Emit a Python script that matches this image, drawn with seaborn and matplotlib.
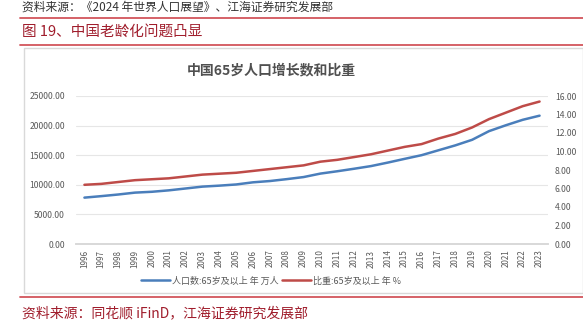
import numpy as np
import pandas as pd
import matplotlib
matplotlib.use("Agg")
import matplotlib.pyplot as plt
from matplotlib.lines import Line2D
from matplotlib.patches import Rectangle
import seaborn as sns

# Data: population aged 65+ (10k persons) and its share of total (%)
years = [str(y) for y in range(1996, 2024)]
pop_65 = [7833, 8085, 8359, 8679, 8821, 9062, 9377, 9692, 9857, 10055,
          10419, 10636, 10956, 11307, 11894, 12288, 12714, 13161, 13755, 14386,
          15003, 15831, 16658, 17603, 19064, 20056, 20978, 21676]
share_65 = [6.4, 6.5, 6.7, 6.9, 7.0, 7.1, 7.3, 7.5, 7.6, 7.7,
            7.9, 8.1, 8.3, 8.5, 8.9, 9.1, 9.4, 9.7, 10.1, 10.5,
            10.8, 11.4, 11.9, 12.6, 13.5, 14.2, 14.9, 15.4]
left_ticks = [0, 5000, 10000, 15000, 20000, 25000]
right_ticks = [0, 2, 4, 6, 8, 10, 12, 14, 16]
label_pop = "人口数:65岁及以上 年 万人"
label_share = "比重:65岁及以上 年 %"

df = pd.DataFrame({"year": years, "pop": pop_65, "share": share_65})

sns.set_theme(style="white")
plt.rcParams["font.family"] = ["Noto Sans CJK SC", "DejaVu Sans"]
plt.rcParams["axes.unicode_minus"] = False

W, H = 583, 322
fig = plt.figure(figsize=(W / 100, H / 100), dpi=100)
fig.patch.set_facecolor("white")

def px(x, y):
    return x / W, 1 - y / H

BLUE = "#4a7ebb"
RED = "#be4b48"
DARKRED = "#a01d2c"
TICK_GREY = "#595959"

# Page header / footer
fig.text(*px(22, 7), "资料来源：《2024 年世界人口展望》、江海证券研究发展部",
         fontsize=8.5, color="#333333", va="center", ha="left")
for yy in (18, 45, 297):
    fig.add_artist(Line2D([20 / W, 1], [1 - yy / H] * 2, color="#d2555c", lw=1.3))
fig.text(*px(22, 32), "图 19、中国老龄化问题凸显", fontsize=10.5, color=DARKRED,
         va="center", ha="left")
fig.text(*px(22, 313), "资料来源：同花顺 iFinD，江海证券研究发展部", fontsize=10,
         color=DARKRED, va="center", ha="left")

# Chart frame
fig.add_artist(Rectangle((24 / W, 1 - 293 / H), (W - 24) / W, (293 - 48) / H,
                         transform=fig.transFigure, fill=False,
                         edgecolor="#d9d9d9", lw=1))

fig.text(*px(271, 70), "中国65岁人口增长数和比重", fontsize=10, fontweight="bold",
         color="#505050", va="center", ha="center")

# Plot area
l, b = px(76, 244)
r, t = px(548, 96)
ax = fig.add_axes([l, b, r - l, t - b])
ax2 = ax.twinx()

sns.lineplot(data=df, x="year", y="pop", ax=ax, color=BLUE, lw=1.8, label=label_pop,
             legend=False)
sns.lineplot(data=df, x="year", y="share", ax=ax2, color=RED, lw=1.8,
             label=label_share, legend=False)

ax.set_xlim(-0.5, len(years) - 0.5)
ax.set_ylim(0, 25000)
ax2.set_ylim(0, 16)
ax.set_yticks(left_ticks)
ax.set_yticklabels([f"{v:.2f}" for v in left_ticks])
ax2.set_yticks(right_ticks)
ax2.set_yticklabels([f"{v:.2f}" for v in right_ticks])

ax.set_xticks(range(len(years)))
ax.set_xticklabels(years, rotation=90, fontsize=5.8, color=TICK_GREY)
ax.set_xticks(np.arange(-0.5, len(years)), minor=True)
ax.tick_params(axis="x", which="major", length=0, pad=4)
ax.tick_params(axis="x", which="minor", length=3, color="#d9d9d9", width=0.8)
ax.tick_params(axis="y", length=0, labelsize=6.2, labelcolor=TICK_GREY, pad=8)
ax2.tick_params(axis="y", length=0, labelsize=6.2, labelcolor=TICK_GREY, pad=5)

ax.grid(axis="y", color="#e6e6e6", lw=0.8)
ax.set_axisbelow(True)
for a in (ax, ax2):
    for side in ("top", "left", "right"):
        a.spines[side].set_visible(False)
    a.spines["bottom"].set_color("#d9d9d9")
    a.set_xlabel("")
    a.set_ylabel("")
    a.patch.set_alpha(0)

handles = [Line2D([], [], color=BLUE, lw=1.8), Line2D([], [], color=RED, lw=1.8)]
fig.legend(handles, [label_pop, label_share], loc="center",
           bbox_to_anchor=px(271, 281), ncol=2, frameon=False, fontsize=6.5,
           handlelength=3.2, handletextpad=0.3, columnspacing=0.3,
           labelcolor="#595959")

fig.savefig("out.png", dpi=100, facecolor="white")
